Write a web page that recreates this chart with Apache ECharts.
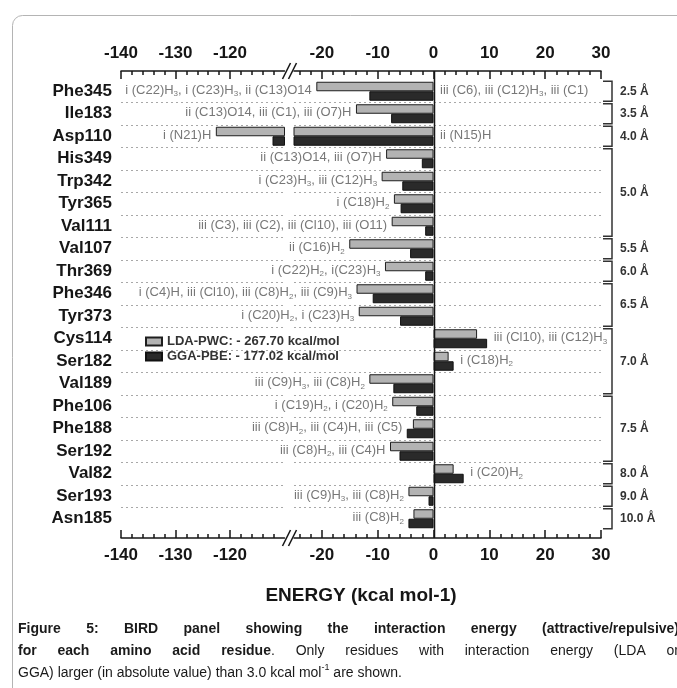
<!DOCTYPE html>
<html>
<head>
<meta charset="utf-8">
<script src="https://cdn.jsdelivr.net/npm/echarts@6/dist/echarts.min.js"></script>
<style>
  html, body { margin: 0; padding: 0; background: #fff; }
  #chart { width: 677px; height: 688px; }
</style>
</head>
<body>
<div id="chart"></div>
<script>
// residues, top to bottom
var residues = ['Phe345', 'Ile183', 'Asp110', 'His349', 'Trp342', 'Tyr365', 'Val111', 'Val107', 'Thr369', 'Phe346',
  'Tyr373', 'Cys114', 'Ser182', 'Val189', 'Phe106', 'Phe188', 'Ser192', 'Val82', 'Ser193', 'Asn185'];
// interaction energy, kcal/mol
var lda = [-21.0, -13.9, -122.6, -8.5, -9.3, -7.1, -7.5, -15.1, -8.7, -13.8,
  -13.4, 7.8, 2.7, -11.5, -7.4, -3.7, -7.8, 3.6, -4.5, -3.6];
var gga = [-11.5, -7.6, -112.2, -2.1, -5.6, -5.9, -1.5, -4.2, -1.5, -10.9,
  -6.0, 9.6, 3.6, -7.2, -3.1, -4.8, -6.1, 5.4, -0.9, -4.5];

var notesLeft = ['i (C22)H3, i (C23)H3, ii (C13)O14', 'ii (C13)O14, iii (C1), iii (O7)H', 'i (N21)H',
  'ii (C13)O14, iii (O7)H', 'i (C23)H3, iii (C12)H3', 'i (C18)H2', 'iii (C3), iii (C2), iii (Cl10), iii (O11)',
  'ii (C16)H2', 'i (C22)H2, i(C23)H3', 'i (C4)H, iii (Cl10), iii (C8)H2, iii (C9)H3', 'i (C20)H2, i (C23)H3',
  '', '', 'iii (C9)H3, iii (C8)H2', 'i (C19)H2, i (C20)H2', 'iii (C8)H2, iii (C4)H, iii (C5)',
  'iii (C8)H2, iii (C4)H', '', 'iii (C9)H3, iii (C8)H2', 'iii (C8)H2'];
var notesRight = ['iii (C6), iii (C12)H3, iii (C1)', '', 'ii (N15)H', '', '', '', '', '', '', '',
  '', 'iii (Cl10), iii (C12)H3', 'i (C18)H2', '', '', '', '', 'i (C20)H2', '', ''];

var seriesNames = ['LDA-PWC', 'GGA-PBE'];
var totals = ['- 267.70 kcal/mol', '- 177.02 kcal/mol'];

// distance groups (first row, last row)
var distLabels = ['2.5 Å', '3.5 Å', '4.0 Å', '5.0 Å', '5.5 Å', '6.0 Å', '6.5 Å', '7.0 Å', '7.5 Å', '8.0 Å', '9.0 Å', '10.0 Å'];
var distStart = [0, 1, 2, 3, 7, 8, 9, 11, 14, 17, 18, 19];
var distEnd = [0, 1, 2, 6, 7, 8, 10, 13, 16, 17, 18, 19];

// broken energy axis: two pieces
var rangeLeft = [-140, -110];
var rangeRight = [-25, 30];
var majorLeft = [-140, -130, -120];
var minorLeft = [-138, -136, -134, -132, -128, -126, -124, -122, -118, -116, -114, -112];
var majorRight = [-20, -10, 0, 10, 20, 30];
var minorRight = [-24, -22, -18, -16, -14, -12, -8, -6, -4, -2, 2, 4, 6, 8, 12, 14, 16, 18, 22, 24, 26, 28];

// figure caption: [style, text] pieces per line, first two lines justified
var captionLines = [
  [['b', 'Figure 5: BIRD panel showing the interaction energy (attractive/repulsive)']],
  [['b', 'for each amino acid residue'], ['r', '. Only residues with interaction energy (LDA or']],
  [['r', 'GGA) larger (in absolute value) than 3.0 kcal mol'], ['sup', '-1'], ['r', ' are shown.']]
];

var FONT = '"Liberation Sans", Arial, sans-serif';
var INK = '#161616';

function sub(t) { return t.replace(/H(\d)/g, 'H{s|$1}'); }

function xAx(grid, pos, range, ticks, len, labels) {
  return {
    type: 'value', gridIndex: grid, position: pos, min: range[0], max: range[1],
    offset: pos === 'top' ? 9 : 8,
    axisLine: { show: !labels, onZero: false, lineStyle: { color: INK, width: 1.5 } },
    axisTick: { show: true, inside: true, length: len, customValues: ticks, lineStyle: { color: INK, width: 1.5 } },
    axisLabel: labels ? {
      show: true, customValues: ticks, margin: 9, fontSize: 17, fontWeight: 'bold', color: INK, fontFamily: FONT
    } : { show: false },
    splitLine: { show: false }
  };
}

function yAx(grid, labels) {
  return {
    type: 'category', gridIndex: grid, data: residues, inverse: true,
    axisLine: { show: false, onZero: false }, axisTick: { show: false },
    axisLabel: labels ? { show: true, margin: 9, fontSize: 17, fontWeight: 'bold', color: INK, fontFamily: FONT } : { show: false },
    splitLine: { show: true, showMinLine: false, showMaxLine: false, lineStyle: { color: '#a8a8a8', type: [2, 3], width: 1 } }
  };
}

var ldaStyle = { color: '#b3b3b3', borderColor: '#1e1e1e', borderWidth: 1 };
var ggaStyle = { color: '#2a2a2a', borderColor: '#111', borderWidth: 1 };

function bars(name, values, xi, yi, style) {
  return {
    name: name, type: 'bar', xAxisIndex: xi, yAxisIndex: yi, data: values,
    barWidth: 9.5, barGap: '0%', itemStyle: style, clip: true, silent: true, z: 2
  };
}

var noteLabel = {
  show: true, fontSize: 13, color: '#555', fontFamily: FONT, lineHeight: 16, offset: [0, -1],
  rich: { s: { fontSize: 8, lineHeight: 8, verticalAlign: 'bottom', color: '#555', fontFamily: FONT } }
};

function notes(side, xi, yi, inLeftPiece) {
  var data = [];
  residues.forEach(function (r, i) {
    var txt = side === 'left' ? notesLeft[i] : notesRight[i];
    if (!txt) return;
    var anchor = side === 'left' ? Math.min(lda[i], gga[i], 0) : Math.max(lda[i], gga[i], 0);
    if ((anchor < rangeRight[0]) !== inLeftPiece) return;
    data.push({ value: [anchor, i], label: { formatter: sub(txt) } });
  });
  return {
    type: 'scatter', xAxisIndex: xi, yAxisIndex: yi, data: data, symbolSize: 1, silent: true, z: 4,
    itemStyle: { color: 'rgba(0,0,0,0)' },
    label: Object.assign({}, noteLabel, { position: side, distance: side === 'left' ? 4 : 6 })
  };
}

// caption laid out word by word so the full lines can be justified
var capFonts = { b: 'bold 14px ' + FONT, r: '14px ' + FONT, sup: '9px ' + FONT };
var measure = document.createElement('canvas').getContext('2d');
function textWidth(style, t) { measure.font = capFonts[style]; return measure.measureText(t).width; }

function captionGraphics(x0, x1, y0, lineGap) {
  var out = [];
  captionLines.forEach(function (line, li) {
    var words = [[]];
    line.forEach(function (seg) {
      seg[1].split(' ').forEach(function (part, k) {
        if (k > 0) words.push([]);
        if (part) words[words.length - 1].push([seg[0], part]);
      });
    });
    words = words.filter(function (w) { return w.length; });
    var widths = words.map(function (w) {
      return w.reduce(function (s, p) { return s + textWidth(p[0], p[1]); }, 0);
    });
    var total = widths.reduce(function (s, v) { return s + v; }, 0);
    var gap = li < 2 ? (x1 - x0 - total) / (words.length - 1) : textWidth('r', ' ');
    var x = x0, y = y0 + li * lineGap;
    words.forEach(function (w, wi) {
      w.forEach(function (p) {
        out.push({ type: 'text', x: x, y: p[0] === 'sup' ? y - 5 : y,
          style: { text: p[1], font: capFonts[p[0]], fill: '#1a1a1a', verticalAlign: 'middle' } });
        x += textWidth(p[0], p[1]);
      });
      x += gap;
    });
  });
  return out;
}

var chart = echarts.init(document.getElementById('chart'));
chart.setOption({
  animation: false,
  backgroundColor: '#fff',
  graphic: [
    { type: 'rect', shape: { x: 12.5, y: 15.5, width: 700, height: 700, r: 10 },
      style: { fill: 'none', stroke: '#b4b4b4', lineWidth: 1 }, z: -10 },
    { type: 'text', x: 361, y: 596,
      style: { text: 'ENERGY (kcal mol-1)', font: 'bold 19px ' + FONT, fill: INK, align: 'center', verticalAlign: 'middle' } }
  ].concat(captionGraphics(18, 679, 629, 22)),
  legend: {
    data: seriesNames, orient: 'vertical', left: 140, top: 330, itemWidth: 16, itemHeight: 8, itemGap: 2,
    icon: 'rect', selectedMode: false,
    formatter: function (n) { return n + ': ' + totals[seriesNames.indexOf(n)]; },
    textStyle: { fontSize: 13, fontWeight: 'bold', color: '#333', fontFamily: FONT }
  },
  grid: [
    { left: 121, top: 80, width: 163.5, height: 450, outerBoundsMode: 'none', containLabel: false },
    { left: 294, top: 80, width: 307, height: 450, outerBoundsMode: 'none', containLabel: false }
  ],
  xAxis: [
    xAx(0, 'bottom', rangeLeft, minorLeft, 4, false),
    xAx(0, 'bottom', rangeLeft, majorLeft, 8, true),
    xAx(0, 'top', rangeLeft, minorLeft, 4, false),
    xAx(0, 'top', rangeLeft, majorLeft, 8, true),
    xAx(1, 'bottom', rangeRight, minorRight, 4, false),
    xAx(1, 'bottom', rangeRight, majorRight, 8, true),
    xAx(1, 'top', rangeRight, minorRight, 4, false),
    xAx(1, 'top', rangeRight, majorRight, 8, true)
  ],
  yAxis: [yAx(0, true), yAx(1, false)],
  series: [
    bars(seriesNames[0], lda, 0, 0, ldaStyle),
    bars(seriesNames[1], gga, 0, 0, ggaStyle),
    bars(seriesNames[0], lda, 4, 1, ldaStyle),
    bars(seriesNames[1], gga, 4, 1, ggaStyle),
    notes('left', 0, 0, true),
    notes('left', 4, 1, false),
    notes('right', 4, 1, false),
    // zero line, from top axis to bottom axis
    {
      type: 'custom', xAxisIndex: 4, yAxisIndex: 1, silent: true, z: 3, data: [[0, 0]],
      renderItem: function (params, api) {
        var cs = params.coordSys;
        var x = Math.round(api.coord([0, 0])[0]) + 0.5;
        return { type: 'line', shape: { x1: x, y1: cs.y - 9, x2: x, y2: cs.y + cs.height + 8 },
          style: { stroke: INK, lineWidth: 1.5 } };
      }
    },
    // distance brackets on the right
    {
      type: 'custom', xAxisIndex: 4, yAxisIndex: 1, silent: true, z: 3,
      data: distStart.map(function (s, i) { return [s, distEnd[i]]; }),
      renderItem: function (params, api) {
        var cs = params.coordSys;
        var xr = cs.x + cs.width;
        var band = api.size([0, 1])[1];
        var y0 = api.coord([0, api.value(0)])[1] - band / 2 + 1.2;
        var y1 = api.coord([0, api.value(1)])[1] + band / 2 - 1.2;
        return {
          type: 'group',
          children: [
            { type: 'polyline', shape: { points: [[xr + 2, y0], [xr + 11, y0], [xr + 11, y1], [xr + 2, y1]] },
              style: { stroke: '#333', fill: 'none', lineWidth: 1.5 } },
            { type: 'text', style: { x: xr + 19, y: (y0 + y1) / 2, text: distLabels[params.dataIndex],
              font: 'bold 12px ' + FONT, fill: '#333', verticalAlign: 'middle' } }
          ]
        };
      }
    },
    // axis break marks
    {
      type: 'custom', xAxisIndex: 0, yAxisIndex: 0, silent: true, z: 3, data: [[rangeLeft[1], 0]],
      renderItem: function (params, api) {
        var cs = params.coordSys;
        var xe = cs.x + cs.width;
        var kids = [];
        [cs.y - 9, cs.y + cs.height + 8].forEach(function (y) {
          [2, 8].forEach(function (dx) {
            kids.push({ type: 'line', shape: { x1: xe + dx - 4, y1: y + 8, x2: xe + dx + 4, y2: y - 8 },
              style: { stroke: INK, lineWidth: 1.5 } });
          });
        });
        return { type: 'group', children: kids };
      }
    }
  ]
});
</script>
</body>
</html>
